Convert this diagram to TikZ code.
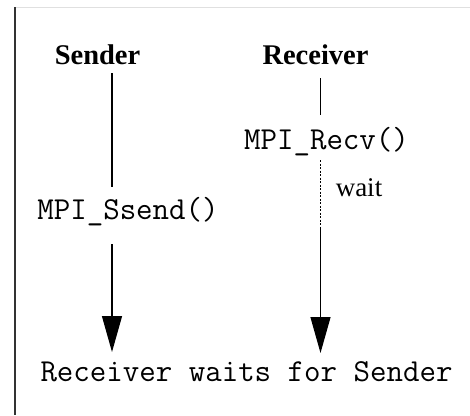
\documentclass[tikz,border=0pt]{standalone}
\usepackage{fontspec}
\setmainfont{Liberation Serif}
\usetikzlibrary{arrows.meta}
\begin{document}
\begin{tikzpicture}[x=1pt,y=-1pt,
  head/.style={font=\fontsize{28.5}{32}\selectfont\bfseries, inner sep=0pt, text depth=0pt, anchor=base},
  call/.style={font=\fontsize{32}{35}\ttfamily, inner sep=0pt, text height=20pt, text depth=6pt, anchor=base},
  note/.style={font=\fontsize{27}{30}\selectfont, inner sep=0pt, anchor=base},
  life/.style={line width=1.2pt, black},
  waitline/.style={line width=1.3pt, black, dash pattern=on 2pt off 1.5pt},
  flow/.style={line width=1.2pt, black, -{Triangle[length=36pt,width=20pt]}}]
  \useasboundingbox (0,0) rectangle (470,415);
  % frame edges
  \draw[line width=1pt, black!12] (15,7) -- (470,7);
  \draw[line width=2pt, black!80] (15,7) -- (15,415);
  % lifeline x positions and free ends
  \coordinate (sx) at (112,0);
  \coordinate (rx) at (320.5,0);
  \coordinate (sEnd) at (112,352);
  \coordinate (rWait) at (320.5,229);
  \coordinate (rEnd) at (320.5,353);
  % labels
  \node[head] (sender) at (97.5,64.5) {Sender};
  \node[head] (receiver) at (315.5,64.5) {Receiver};
  \node[call] (ssend) at (128,219) {MPI\_Ssend()};
  \node[call] (recv) at (326.5,149) {MPI\_Recv()};
  \node[note] (wait) at (359,196.5) {wait};
  \node[call] (summary) at (246.5,381.5) {Receiver waits for Sender};
  % sender lifeline
  \draw[life, shorten <=8.5pt, shorten >=12pt] (sender.south -| sx) -- (ssend.north -| sx);
  \draw[flow, shorten <=19pt] (ssend.south -| sx) -- (sEnd);
  % receiver lifeline
  \draw[life, shorten <=13.5pt, shorten >=14pt] (receiver.south -| rx) -- (recv.north -| rx);
  \draw[waitline, shorten <=5pt] (recv.south -| rx) -- (rWait);
  \draw[flow] (rWait) -- (rEnd);
\end{tikzpicture}
\end{document}
